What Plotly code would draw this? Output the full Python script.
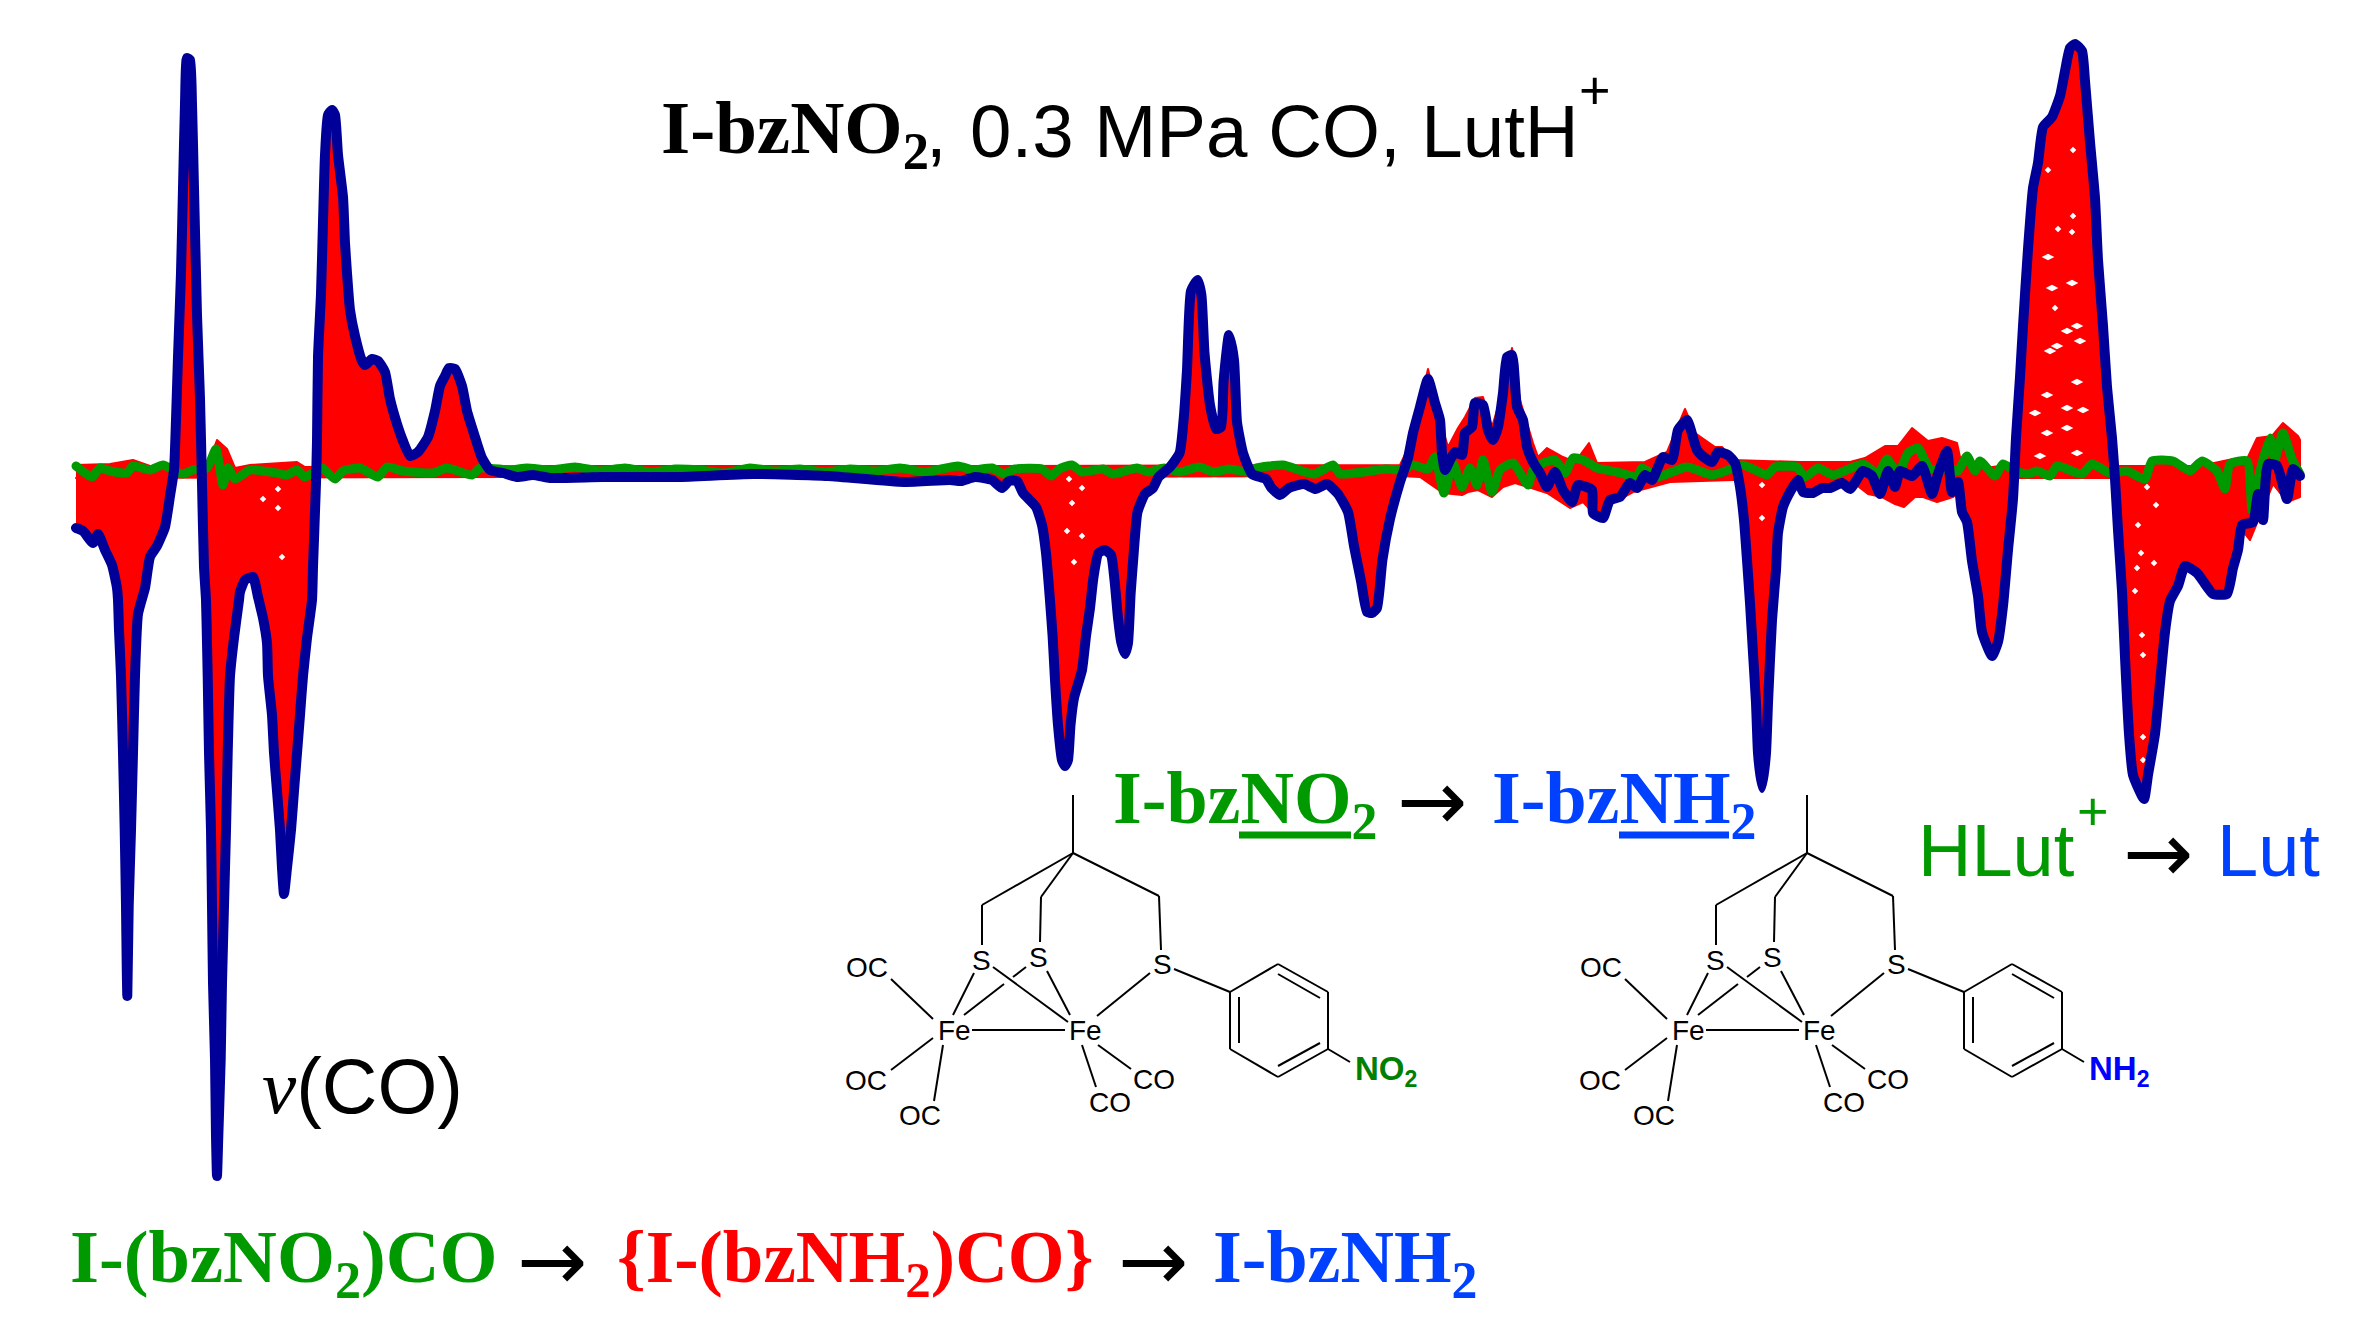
import plotly.graph_objects as go

# Spectrum traces, read on a reversed vertical axis whose zero-difference baseline is near 470
blue_x = [76,83,93,98,105,112,117,118,119,121,123,124.7,126,126.7,127.3,128.7,131,133,135,138,145,150,157,165,170,174,176,178,181,183,185,187,190,192,194,197,200,202,204,206,207,207.7,209,211,212,213,215,216,217,218.3,220.7,222,224,226,227.7,230,234,239,240,245,253,258,263,267,268,272,274,277,280,282,284,287,291,294,297,300,303,307,312,313,316,317,318,321,323,325,328,332,335,338,343,345,347,350,355,362,365,372,378,385,390,397,403,410,418,428,435,440,445,449,455,462,467,475,482,490,503,517,533,550,602,678,753,828,904,950,961,975,992,1002,1009,1017,1023,1036,1042,1046,1049.5,1052.6,1055,1058,1062,1065,1068,1070.5,1074,1082,1086,1090,1093.5,1098.5,1105,1111,1114.6,1118,1121.4,1125,1128,1130.6,1133.7,1137.5,1145,1153,1158.6,1170,1179.6,1183.4,1187,1191,1197.6,1201.4,1204.5,1210,1216,1221,1223.6,1229,1234,1237,1243,1252,1266,1271.5,1280,1289,1304,1315.5,1327,1338,1348,1354,1361,1367,1372,1377,1382.4,1390,1400,1408,1413,1420,1428,1435,1440,1442,1445,1450,1455,1462,1465,1472,1475,1483,1488,1493,1498,1503,1507,1512,1517,1523,1527,1533,1540,1547,1555,1563,1572,1578,1592,1593,1603,1610,1620,1630,1637,1645,1652,1663,1672,1678,1687,1697,1705,1712,1718,1728,1735,1740,1744,1747,1750,1753,1756,1758,1762,1766,1768,1772,1776,1778,1783,1790,1798,1803,1813,1822,1830,1842,1850,1863,1872,1880,1888,1895,1900,1912,1922,1932,1938,1947,1952,1958,1962,1967,1972,1978,1982,1992,1998,2003,2008,2013,2016,2020,2023,2028,2033,2038,2043,2052,2060,2065,2070,2075,2082,2085,2090,2095,2098,2103,2107,2112,2115,2118,2122,2125,2129,2133,2144,2148,2155,2160,2165,2170,2178,2185,2197,2203,2213,2227,2233,2238,2242,2253,2258,2263,2268,2277,2287,2293,2300]
blue_y = [528,531,543,534,550,565,588,600,630,676,753,830,906,964,996,906,830,753,676,614,588,557,546,527,496,470,420,357,273,188,104,58,60,104,188,315,399,483,567,600,643,676,753,830,906,983,1059,1136,1176,1136,1059,983,906,830,753,676,638,600,592,580,577,597,618,643,676,715,753,791,830,868,894,868,830,791,753,715,676,638,600,567,483,441,357,294,222,155,115,110,115,155,197,243,273,310,336,361,365,359,361,372,399,424,441,456,452,437,411,386,376,368,369,386,411,437,458,470,473,477,475,478,477,477,474,476,482,480,481,477,480,488,481,481,493,507,525,553,594,636,680,725,760,766,760,725,698,670,636,608,577,553,550,555,581,618,643,654,643,594,553,512,494,488,477,467,453,422,370,291,280,295,353,405,429,427,381,335,360,422,453,474,479,488,495,488,484,489,484,494,512,546,581,612,613,608,560,519,482,458,433,407,379,403,420,453,470,460,452,455,433,427,403,405,430,440,427,393,357,355,407,420,447,462,473,487,472,490,502,485,490,513,518,500,497,483,488,475,480,457,460,430,420,450,458,462,452,455,463,487,520,560,603,653,703,753,788,753,703,620,570,533,507,492,480,492,493,488,488,483,489,471,476,494,471,487,471,476,466,494,474,451,492,482,512,522,561,596,632,656,642,606,550,499,438,377,326,249,188,163,127,117,96,71,48,44,51,81,142,198,260,326,387,438,479,530,591,657,734,775,799,775,734,683,632,601,586,566,573,581,594,594,568,550,525,522,494,520,464,466,499,469,476]

green_x = [76,92,100,110,127,133,150,163,182,193,207,216,223,228,235,250,277,287,297,305,322,335,343,360,378,387,403,433,447,472,480,510,527,550,575,600,625,650,675,700,725,750,775,800,825,850,875,900,925,958,973,992,1004,1015,1042,1051,1061,1072,1082,1103,1113,1137,1149,1164,1180,1199,1214,1229,1247,1256,1283,1314,1333,1340,1363,1386,1402,1413,1428,1435,1444,1453,1462,1470,1477,1483,1492,1500,1513,1528,1533,1543,1555,1565,1573,1583,1597,1617,1637,1642,1657,1687,1712,1723,1743,1767,1775,1797,1805,1818,1833,1863,1878,1887,1898,1908,1918,1930,1950,1958,1967,1975,1980,1995,2003,2015,2028,2037,2050,2057,2082,2092,2110,2127,2145,2152,2173,2190,2202,2217,2225,2230,2247,2252,2258,2270,2275,2283,2292,2300]
green_y = [466,477,468,471,473,466,470,465,474,470,468,449,485,468,479,470,473,475,470,477,468,479,471,468,477,467,471,473,468,475,468,470,468,470,467,471,468,472,469,470,473,468,471,469,472,469,471,468,472,466,470,468,474,469,469,476,468,465,472,469,474,468,472,468,472,467,472,469,472,468,465,474,465,474,472,469,470,465,469,457,493,463,487,468,485,460,492,470,463,485,470,463,460,473,458,460,468,472,477,468,477,467,475,472,465,475,467,467,477,468,475,464,474,459,474,453,448,469,469,471,456,471,461,476,464,471,474,471,476,466,474,464,473,471,479,461,461,471,461,471,489,464,461,510,479,438,459,433,459,474]

# Noise envelope of the intermediate red spectra
red_hi_x = [76,110,133,150,207,217,227,235,250,267,297,305,550,1000,1400,1412,1428,1440,1448,1458,1465,1475,1483,1492,1500,1512,1520,1533,1538,1547,1563,1575,1589,1597,1630,1645,1667,1685,1695,1715,1722,1733,1800,1850,1865,1885,1898,1912,1928,1942,1957,1963,2000,2200,2233,2247,2257,2272,2283,2298,2300]
red_hi_y = [465,464,460,466,466,440,449,468,465,464,462,467,466,466,465,440,369,420,447,428,417,398,397,427,400,348,400,443,457,448,457,462,443,463,462,462,452,409,433,447,447,460,462,462,458,446,446,428,441,438,443,471,466,466,459,459,438,436,423,436,440]
red_lo_x = [76,207,550,1000,1400,1420,1443,1462,1468,1478,1492,1503,1515,1547,1570,1583,1600,1613,1633,1670,1800,1850,1868,1882,1895,1904,1915,1923,1937,1953,1975,2200,2250,2273,2287,2300]
red_lo_y = [478,478,477,477,476,477,493,495,492,490,497,487,483,493,508,502,520,503,492,482,478,480,494,497,504,507,497,497,502,497,478,478,540,484,502,497]

# Gaps left between the intermediate spectra
gap_big_x = [2048,2052,2072,2077,2067,2057,2050,2080,2077,2047,2067,2083,2035,2067,2047,2077,2040]
gap_big_y = [257,288,283,326,331,346,351,341,382,395,408,410,413,428,433,453,456]
gap_small_x = [2055,2073,2073,2048,2058,2072,2138,2156,2147,2154,2142,2143,2141,2135,2143,2143,2137,278,282,278,263,1072,1069,1082,1074,1067,1082,1762,1762]
gap_small_y = [308,216,150,170,229,232,525,505,487,563,635,655,553,591,737,760,568,508,557,489,499,503,479,488,562,531,536,485,518]

# Molecule bonds for the left copy; the right copy is shifted
bond_x0 = [1073,1073,982,1073,1041,1073,1159,974,1026,1004,993,1047,1150,972,891,933,943,1098,1082,1174,1230,1278,1328,1328,1278,1230,1239,1278,1278,1328]
bond_y0 = [795,853,905,853,897,853,896,973,967,984,967,971,973,1030,979,1038,1045,1045,1045,969,992,964,992,1049,1077,1049,997,974,1066,1049]
bond_x1 = [1073,982,982,1041,1040,1159,1161,953,1013,964,1068,1070,1097,1065,933,891,934,1131,1096,1230,1278,1328,1328,1278,1230,1230,1239,1320,1320,1350]
bond_y1 = [853,905,945,897,942,896,950,1015,977,1015,1022,1015,1016,1030,1019,1070,1101,1069,1087,992,964,992,1049,1077,1049,992,1043,998,1043,1062]
mol_offset = [0, 734]

# Atom labels
atom_x = [981, 1038, 1162, 867, 866, 920, 1154, 1110, 954, 1085]
atom_y = [960, 957, 964, 967, 1080, 1115, 1079, 1102, 1030, 1030]
atom_t = ["S", "S", "S", "OC", "OC", "OC", "CO", "CO", "Fe", "Fe"]

GREEN = "#009900"
BLUE = "#0040FF"
RED = "#FF0000"
SERIF = "Liberation Serif"
SANS = "Liberation Sans"
ARROW = "DejaVu Sans"

fig = go.Figure()
fig.add_trace(go.Scatter(x=red_hi_x + red_lo_x[::-1], y=red_hi_y + red_lo_y[::-1], mode="lines",
                         fill="toself", fillcolor=RED, line=dict(color=RED, width=2), hoverinfo="skip"))
fig.add_trace(go.Scatter(x=blue_x + green_x[::-1], y=blue_y + green_y[::-1], mode="lines",
                         fill="toself", fillcolor=RED, line=dict(color=RED, width=1), hoverinfo="skip"))
fig.add_trace(go.Scatter(x=gap_big_x, y=gap_big_y, mode="markers",
                         marker=dict(color="white", size=9, symbol="diamond-wide"), hoverinfo="skip"))
fig.add_trace(go.Scatter(x=gap_small_x, y=gap_small_y, mode="markers",
                         marker=dict(color="white", size=5, symbol="diamond"), hoverinfo="skip"))
fig.add_trace(go.Scatter(x=green_x, y=green_y, mode="lines",
                         line=dict(color="#009900", width=9, shape="spline", smoothing=0.5)))
fig.add_trace(go.Scatter(x=blue_x, y=blue_y, mode="lines",
                         line=dict(color="#000099", width=10, shape="spline", smoothing=0.5)))

shapes = []
for dx in mol_offset:
    for a, b, c, d in zip(bond_x0, bond_y0, bond_x1, bond_y1):
        shapes.append(dict(type="line", xref="x", yref="y", x0=a + dx, y0=b, x1=c + dx, y1=d,
                           line=dict(color="black", width=2)))
for a, b, col in [(1239, 1351, GREEN), (1619, 1729, BLUE)]:
    shapes.append(dict(type="line", xref="x", yref="y", x0=a, y0=835, x1=b, y1=835,
                       line=dict(color=col, width=7)))

def label(x, y, text, size, color="black", font=SANS, anchor="left"):
    fig.add_annotation(x=x, y=y, text=text, xref="x", yref="y", showarrow=False, xanchor=anchor,
                       yanchor="middle", align="left", borderpad=0,
                       font=dict(family=font, size=size, color=color))

# Title and reaction captions
label(660, 133, "<b>I-bzNO<sub><b>2</b></sub></b>", 75, font=SERIF)
label(925, 131, ",", 74)
label(969, 131, "0.3 MPa CO, LutH", 74.5)
label(1578, 90, "+", 54)

label(69, 1262, "<b>I-(bzNO<sub><b>2</b></sub>)CO</b>", 74.5, GREEN, SERIF)
label(516, 1261, "→", 84, "black", ARROW)
label(616, 1262, "<b>{I-(bzNH<sub><b>2</b></sub>)CO}</b>", 73, RED, SERIF)
label(1117, 1261, "→", 84, "black", ARROW)
label(1212, 1262, "<b>I-bzNH<sub><b>2</b></sub></b>", 74, BLUE, SERIF)

label(1112, 803, "<b>I-bzNO<sub><b>2</b></sub></b>", 74, GREEN, SERIF)
label(1396, 801, "→", 84, "black", ARROW)
label(1491, 803, "<b>I-bzNH<sub><b>2</b></sub></b>", 74, BLUE, SERIF)

label(1917, 850, "HLut", 74, GREEN)
label(2076, 811, "+", 54, GREEN)
label(2122, 853, "→", 84, "black", ARROW)
label(2216, 850, "Lut", 74, BLUE)

label(261, 1086, '<span style="font-family:Liberation Serif"><i>ν</i></span>(CO)', 77)

# Atom labels for both molecules
for dx in mol_offset:
    for x, y, t in zip(atom_x, atom_y, atom_t):
        label(x + dx, y, t, 28, anchor="center")
label(1354, 1071, "<b>NO<sub>2</sub></b>", 33, "#008000")
label(2088, 1071, "<b>NH<sub>2</sub></b>", 33, "#0000FF")

fig.update_layout(
    width=2361, height=1344, margin=dict(l=0, r=0, t=0, b=0),
    paper_bgcolor="white", plot_bgcolor="white", showlegend=False, shapes=shapes,
    xaxis=dict(range=[0, 2361], visible=False, fixedrange=True),
    yaxis=dict(range=[1344, 0], visible=False, fixedrange=True),
)
fig.write_html(
    "out.html",
    config={"displayModeBar": False},
    post_script=(
        "document.body.style.margin='0';"
        "document.querySelectorAll('.js-line').forEach(function(p){"
        "p.style.strokeLinejoin='round';p.style.strokeLinecap='round';});"
    ),
)
